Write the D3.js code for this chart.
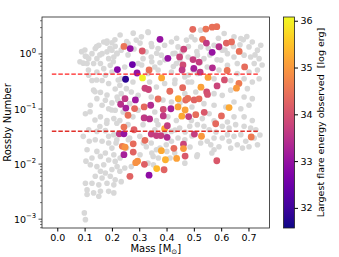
<!DOCTYPE html>
<html lang="en">
<head>
<meta charset="UTF-8">
<title>Rossby number vs mass</title>
<script src="https://d3js.org/d3.v7.min.js"></script>
<style>
  body { margin: 0; background: #fff; }
  text { font-family: "DejaVu Sans", sans-serif; fill: #000; }
</style>
</head>
<body>
<svg id="chart" width="339" height="257"></svg>
<script>
// whole sample (grey): [mass, Rossby number]
const allStars = [
  [0.089,1.10],[0.083,0.72],[0.095,0.68],[0.101,1.18],[0.103,0.91],[0.115,0.82],[0.109,0.67],[0.127,1.01],
  [0.139,1.25],[0.152,1.44],[0.170,1.65],[0.182,1.72],[0.200,1.59],[0.212,1.38],[0.200,1.17],[0.182,1.09],
  [0.164,1.01],[0.145,0.82],[0.133,0.67],[0.158,0.67],[0.188,0.82],[0.207,0.88],[0.219,1.01],[0.170,0.54],
  [0.194,0.62],[0.145,0.47],[0.176,0.41],[0.200,0.47],[0.114,0.51],[0.115,0.41],[0.127,0.33],[0.164,0.33],
  [0.188,0.29],[0.212,0.23],[0.133,0.22],[0.158,0.20],[0.182,0.18],[0.145,0.154],[0.176,0.144],[0.200,0.129],
  [0.164,0.117],[0.188,0.101],[0.212,0.095],[0.103,0.082],[0.158,0.072],[0.182,0.062],[0.207,0.067],[0.121,0.117],
  [0.219,0.165],[0.144,0.337],[0.138,0.206],[0.223,0.337],[0.120,0.089],[0.138,0.063],[0.181,0.055],[0.218,0.055],
  [0.156,0.048],[0.199,0.096],
  [0.181,1.57],[0.211,1.80],[0.230,2.21],[0.278,2.38],[0.333,2.44],[0.254,1.67],[0.303,1.57],[0.346,1.36],
  [0.218,1.03],[0.364,1.03],[0.205,0.72],[0.346,0.72],[0.309,0.63],[0.144,1.36],[0.108,0.89],[0.156,0.96],
  [0.193,1.27],
  [0.234,1.17],[0.259,1.54],[0.289,1.78],[0.308,2.04],[0.332,2.51],[0.344,1.54],[0.369,1.25],[0.393,1.44],
  [0.418,1.65],[0.442,1.34],[0.473,1.78],[0.491,2.04],[0.424,1.01],[0.381,0.95],[0.344,0.88],[0.314,0.82],
  [0.296,0.67],[0.247,0.58],[0.357,0.58],[0.436,0.67],[0.479,0.88],[0.497,0.51],[0.332,0.44],[0.369,0.51],
  [0.418,0.47],[0.467,0.38],[0.234,0.355],[0.277,0.31],
  [0.437,1.93],[0.480,1.36],[0.431,1.03],[0.449,0.78],[0.425,0.59],[0.480,0.415],[0.431,0.337],[0.492,0.31],
  [0.511,1.10],[0.504,1.80],[0.553,1.27],[0.590,1.93],[0.614,1.18],[0.645,1.36],[0.681,1.80],[0.694,2.06],
  [0.672,1.90],[0.647,2.04],[0.714,1.65],[0.745,1.44],[0.733,1.17],[0.702,1.34],[0.684,0.95],[0.708,0.88],
  [0.739,0.82],[0.647,0.88],[0.623,1.01],[0.604,1.17],[0.574,1.44],[0.525,1.34],[0.513,0.95],[0.537,0.82],
  [0.599,0.77],[0.623,0.62],[0.659,0.67],[0.721,0.67],[0.733,0.51],[0.702,0.47],[0.659,0.44],[0.592,0.51],
  [0.549,0.58],[0.513,0.44],[0.574,0.355],[0.635,0.33],[0.684,0.355],[0.714,0.31],[0.739,0.355],[0.696,0.234],
  [0.635,0.22],[0.604,0.177],[0.574,0.19],[0.507,0.204],[0.684,0.165],[0.714,0.154],[0.647,0.134],[0.617,0.109],
  [0.574,0.117],[0.537,0.125],[0.672,0.101],[0.702,0.117],[0.556,0.082],[0.647,0.072],[0.684,0.072],[0.531,0.067],
  [0.623,0.058],[0.714,0.062],[0.574,0.061],[0.525,2.70],[0.611,2.34],
  [0.229,0.27],[0.253,0.234],[0.234,0.19],[0.271,0.204],[0.296,0.177],[0.222,0.144],[0.265,0.125],[0.296,0.095],
  [0.241,0.088],[0.277,0.072],[0.229,0.062],[0.344,0.165],[0.357,0.088],[0.363,0.062],[0.418,0.134],[0.467,0.19],
  [0.479,0.31],[0.430,0.29],[0.393,0.29],[0.338,0.31],[0.363,0.251],[0.405,0.072],[0.436,0.062],[0.491,0.062],
  [0.320,0.072],
  [0.259,0.052],[0.314,0.052],[0.369,0.052],[0.357,0.042],[0.418,0.0392],[0.448,0.045],[0.485,0.0485],[0.265,0.0297],
  [0.302,0.0319],[0.326,0.0206],[0.344,0.0241],[0.363,0.0182],[0.399,0.0224],[0.418,0.0259],[0.442,0.0297],[0.430,0.0159],
  [0.467,0.0104],[0.351,0.0138],[0.332,0.0104],[0.229,0.0074],[0.247,0.0085],[0.271,0.0090],[0.234,0.0048],[0.467,0.0277],
  [0.513,0.052],[0.537,0.0485],[0.556,0.0419],[0.604,0.0485],[0.629,0.045],[0.653,0.052],[0.684,0.0485],[0.708,0.045],
  [0.727,0.0419],[0.623,0.0342],[0.647,0.0319],[0.672,0.0342],[0.690,0.0259],[0.659,0.0224],[0.629,0.0259],[0.604,0.0297],
  [0.574,0.0297],[0.549,0.0259],[0.525,0.0241],[0.513,0.0148],[0.562,0.0224],[0.592,0.0206],[0.678,0.0195],[0.702,0.0206],
  [0.733,0.0224],[0.721,0.0297],[0.635,0.0195],[0.574,0.0182],[0.566,0.0159],[0.511,0.0138],[0.413,0.0129],[0.742,0.0337],
  [0.581,0.0382],[0.486,0.0204],
  [0.115,0.042],[0.145,0.0392],[0.176,0.0405],[0.188,0.0319],[0.207,0.0342],[0.139,0.0277],[0.164,0.0259],[0.188,0.0241],
  [0.200,0.0195],[0.109,0.0182],[0.145,0.0170],[0.176,0.0159],[0.207,0.0148],[0.127,0.0129],[0.158,0.0138],[0.188,0.0119],
  [0.212,0.0112],[0.121,0.0097],[0.145,0.0090],[0.170,0.0097],[0.158,0.0074],[0.176,0.0069],[0.200,0.0080],[0.139,0.0060],
  [0.164,0.0056],[0.194,0.0060],[0.103,0.0045],[0.127,0.0045],[0.152,0.0042],[0.182,0.0045],[0.207,0.0042],[0.109,0.0034],
  [0.133,0.0030],[0.158,0.0032],[0.188,0.0032],[0.207,0.0030],[0.109,0.0028],[0.152,0.0026],[0.099,0.0013],[0.103,0.00098],
  [0.215,0.0241],[0.219,0.0090],[0.212,0.0052],[0.095,0.0319],[0.117,0.0259],[0.105,0.0113],[0.230,0.0129],[0.254,0.0195],
  [0.303,0.0148],[0.346,0.0159],[0.370,0.0129],[0.376,0.0195],[0.401,0.0170],[0.352,0.0097],[0.315,0.0241],[0.260,0.0277],
  [0.218,0.0277],
  [0.431,0.0415],[0.468,0.0382],[0.493,0.0323],[0.394,0.0366],[0.387,0.146],[0.449,0.129],[0.493,0.109],
  [0.259,0.96],[0.281,1.23],[0.325,1.09],[0.394,0.78],[0.376,0.69],[0.457,1.09],[0.523,0.69],[0.559,0.96],
  [0.585,0.78],[0.669,1.46],[0.724,0.96],[0.750,0.63]
];

// flaring stars: [mass, Rossby number, largest flare energy (log erg)]
const flareStars = [
  [0.244,1.37,34.5],[0.267,1.25,33.0],[0.311,1.13,34.1],[0.376,1.84,33.0],[0.275,0.64,32.5],[0.220,0.52,32.8],
  [0.292,0.45,33.0],[0.336,0.51,34.45],[0.250,0.347,31.8],[0.312,0.366,36.0],[0.382,0.366,35.2],[0.405,0.83,33.0],
  [0.321,0.238,33.8],[0.334,0.226,33.8],[0.248,0.154,33.6],[0.286,0.146,33.1],[0.369,0.152,34.4],[0.232,0.122,33.5],
  [0.251,0.104,33.2],[0.283,0.102,34.35],[0.318,0.109,34.35],[0.342,0.117,33.4],[0.388,0.098,33.9],[0.259,0.077,34.45],
  [0.318,0.069,33.6],[0.338,0.066,33.5],[0.388,0.075,33.6],[0.244,0.047,34.5],[0.281,0.042,34.2],[0.393,0.044,35.2],
  [0.496,2.79,34.35],[0.544,2.82,34.5],[0.567,3.06,34.45],[0.584,3.12,34.45],[0.532,1.84,34.5],[0.546,1.57,33.6],
  [0.567,1.07,33.0],[0.592,1.35,33.5],[0.619,1.57,34.25],[0.638,1.65,34.4],[0.666,1.11,34.45],[0.463,1.22,33.8],
  [0.448,0.88,33.8],[0.497,0.79,33.7],[0.460,0.63,33.9],[0.519,0.71,33.7],[0.500,0.545,33.2],[0.457,0.51,33.6],
  [0.523,0.467,33.6],[0.568,0.56,33.4],[0.622,0.50,34.5],[0.686,0.58,34.4],[0.552,0.374,35.1],[0.612,0.337,34.0],
  [0.665,0.291,34.6],[0.656,0.239,35.0],[0.585,0.262,33.8],[0.459,0.244,34.35],[0.526,0.249,35.1],[0.547,0.204,33.9],
  [0.550,0.184,34.0],[0.412,0.210,34.4],[0.443,0.154,35.2],[0.470,0.145,34.35],[0.478,0.155,34.45],[0.501,0.146,34.25],
  [0.519,0.153,34.4],[0.629,0.106,35.2],[0.416,0.101,33.2],[0.442,0.109,35.1],[0.468,0.096,35.1],[0.456,0.074,35.2],
  [0.481,0.073,33.7],[0.507,0.079,34.4],[0.601,0.075,34.35],[0.538,0.087,34.1],[0.580,0.054,34.35],[0.502,0.035,33.7],
  [0.528,0.032,35.0],[0.710,0.031,34.6],[0.462,0.023,33.8],[0.427,0.0193,34.4],[0.462,0.0191,35.0],[0.437,0.0127,35.1],
  [0.468,0.0140,34.1],[0.584,0.0115,34.1],[0.403,0.0497,33.7],[0.227,0.0354,33.6],[0.244,0.0354,33.0],[0.344,0.035,33.7],
  [0.363,0.033,33.7],[0.379,0.033,33.7],[0.402,0.0306,33.4],[0.321,0.027,34.4],[0.278,0.0233,34.4],[0.238,0.021,34.6],
  [0.248,0.0202,34.9],[0.381,0.0175,35.2],[0.244,0.0148,33.2],[0.278,0.0165,34.25],[0.396,0.012,35.3],[0.294,0.0113,34.9],
  [0.287,0.0106,34.9],[0.319,0.0099,34.2],[0.364,0.0083,35.4],[0.391,0.0079,34.25],[0.266,0.0060,34.25],[0.336,0.0063,32.9]
];

const xTicks = [0.0, 0.1, 0.2, 0.3, 0.4, 0.5, 0.6, 0.7];
const yTicks = [1e-3, 1e-2, 1e-1, 1e0];
const yExponents = ["\u22123", "\u22122", "\u22121", "0"];
const cbTicks = [32, 33, 34, 35, 36];
// Rossby number thresholds: [Ro, colour]
const roLines = [[0.43, "#ff2020"], [0.0395, "#e0302a"]];
const lineMass = [-0.02, 0.74];

const svg = d3.select("#chart");
const plot = { left: 42, right: 269.5, top: 17, bottom: 228 };

const x = d3.scaleLinear().domain([-0.056, 0.777]).range([plot.left, plot.right]);
const y = d3.scaleLog().domain([Math.pow(10, -3.16), Math.pow(10, 0.67)]).range([plot.bottom, plot.top]);
const eScale = d3.scaleLinear().domain([31.57, 36.08]).range([0, 1]);
const color = e => d3.interpolatePlasma(eScale(e));

// grey background sample
svg.append("g").selectAll("circle")
  .data(allStars).enter().append("circle")
  .attr("cx", d => x(d[0]))
  .attr("cy", d => y(d[1]))
  .attr("r", 2.8)
  .attr("fill", "#d8d8d8");

// flaring stars coloured by energy
svg.append("g").selectAll("circle")
  .data(flareStars).enter().append("circle")
  .attr("cx", d => x(d[0]))
  .attr("cy", d => y(d[1]))
  .attr("r", 3.4)
  .attr("fill", d => color(d[2]));

// threshold lines
svg.append("g").selectAll("line")
  .data(roLines).enter().append("line")
  .attr("x1", x(lineMass[0])).attr("x2", x(lineMass[1]))
  .attr("y1", d => y(d[0])).attr("y2", d => y(d[0]))
  .attr("stroke", d => d[1])
  .attr("stroke-width", 1.3)
  .attr("stroke-dasharray", "4.5,2");

// frame
svg.append("rect")
  .attr("x", plot.left).attr("y", plot.top)
  .attr("width", plot.right - plot.left).attr("height", plot.bottom - plot.top)
  .attr("fill", "none").attr("stroke", "#222").attr("stroke-width", 0.8);

// x axis
const xAxis = svg.append("g")
  .attr("transform", `translate(0,${plot.bottom})`)
  .call(d3.axisBottom(x).tickValues(xTicks).tickFormat(d3.format(".1f")).tickSize(3.5).tickPadding(3));
xAxis.select(".domain").remove();
xAxis.selectAll("text").style("font-size", "9.5px").attr("font-family", "DejaVu Sans");

// y axis, major + minor ticks
const yAxis = svg.append("g").attr("transform", `translate(${plot.left},0)`);
const minor = [];
for (let p = -4; p <= 0; p++) {
  for (let k = 2; k <= 9; k++) {
    const v = k * Math.pow(10, p);
    if (v >= y.domain()[0] && v <= y.domain()[1]) minor.push(v);
  }
}
yAxis.selectAll(".minor").data(minor).enter().append("line")
  .attr("x1", -2).attr("x2", 0)
  .attr("y1", d => y(d)).attr("y2", d => y(d))
  .attr("stroke", "#222").attr("stroke-width", 0.6);
yAxis.selectAll(".major").data(yTicks).enter().append("line")
  .attr("x1", -3.5).attr("x2", 0)
  .attr("y1", d => y(d)).attr("y2", d => y(d))
  .attr("stroke", "#222").attr("stroke-width", 0.8);
const yLab = yAxis.selectAll(".lab").data(yTicks).enter().append("text")
  .attr("x", -6).attr("y", d => y(d) + 3.5)
  .attr("text-anchor", "end")
  .style("font-size", "9.5px");
yLab.append("tspan").text("10");
yLab.append("tspan").attr("dy", -4.5).style("font-size", "6.8px").text((d, i) => yExponents[i]);

// axis titles
const xt = svg.append("text")
  .attr("x", (plot.left + plot.right) / 2).attr("y", 252)
  .attr("text-anchor", "middle").style("font-size", "10px");
xt.append("tspan").text("Mass [M");
xt.append("tspan").attr("dy", 2).style("font-size", "7px").text("\u2299");
xt.append("tspan").attr("dy", -2).text("]");

svg.append("text")
  .attr("transform", `translate(11,${(plot.top + plot.bottom) / 2}) rotate(-90)`)
  .attr("text-anchor", "middle").style("font-size", "10px")
  .text("Rossby Number");

// colour bar
const cb = { left: 283.5, width: 11, top: plot.top, bottom: plot.bottom };
const cbY = d3.scaleLinear().domain(eScale.domain()).range([cb.bottom, cb.top]);
const grad = svg.append("defs").append("linearGradient")
  .attr("id", "plasma").attr("x1", 0).attr("x2", 0).attr("y1", 1).attr("y2", 0);
d3.range(0, 1.0001, 0.05).forEach(t => {
  grad.append("stop").attr("offset", t).attr("stop-color", d3.interpolatePlasma(t));
});
svg.append("rect")
  .attr("x", cb.left).attr("y", cb.top)
  .attr("width", cb.width).attr("height", cb.bottom - cb.top)
  .attr("fill", "url(#plasma)")
  .attr("stroke", "#222").attr("stroke-width", 0.8);
const cbAxis = svg.append("g")
  .attr("transform", `translate(${cb.left + cb.width},0)`)
  .call(d3.axisRight(cbY).tickValues(cbTicks).tickFormat(d3.format("d")).tickSize(3.5).tickPadding(2.5));
cbAxis.select(".domain").remove();
cbAxis.selectAll("text").style("font-size", "9.5px").attr("font-family", "DejaVu Sans");

svg.append("text")
  .attr("transform", `translate(324,${(cb.top + cb.bottom) / 2}) rotate(-90)`)
  .attr("text-anchor", "middle").style("font-size", "9.5px")
  .attr("xml:space", "preserve")
  .text("Largest flare energy observed  [log erg]");
</script>
</body>
</html>
